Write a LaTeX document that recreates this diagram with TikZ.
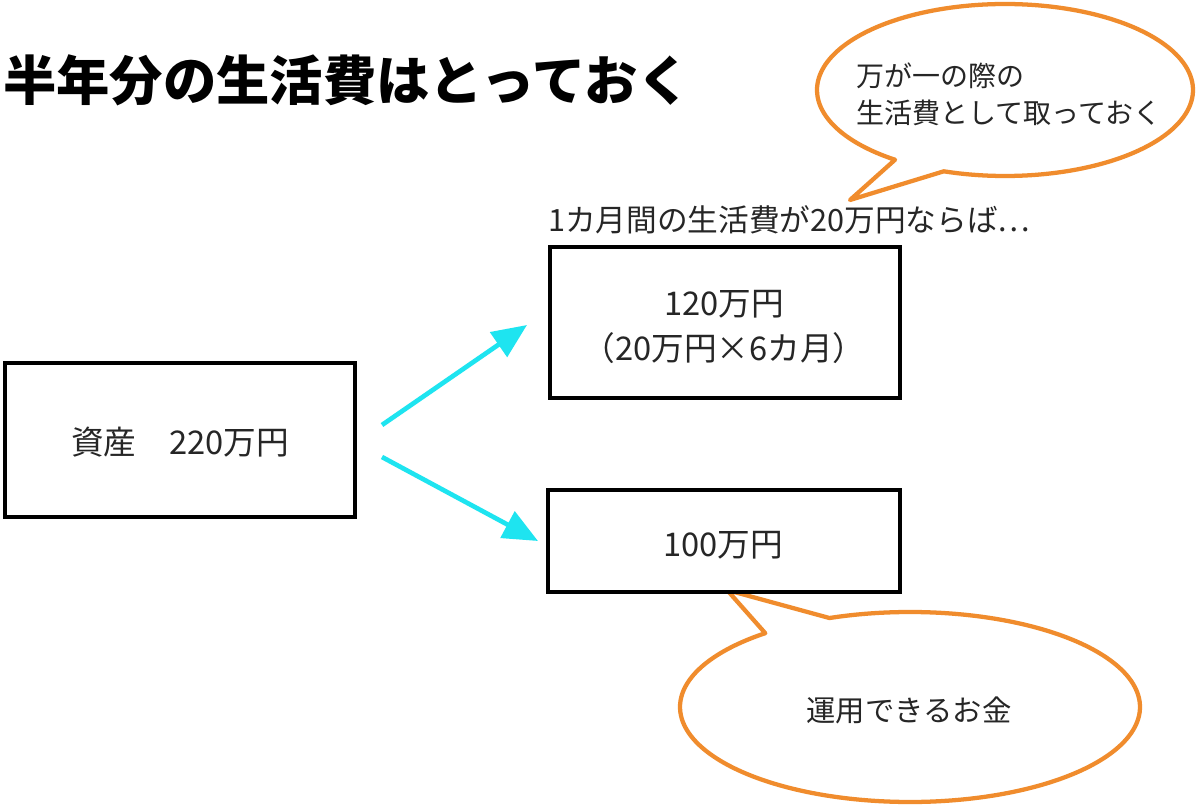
\documentclass[tikz,border=0pt]{standalone}
\usepackage{fontspec}
\newfontfamily\cjk{Noto Sans CJK JP}
\usetikzlibrary{arrows.meta}
\definecolor{callorange}{RGB}{240,140,45}
\definecolor{arrcyan}{RGB}{30,228,240}
\tikzset{
  box/.style={draw=black, line width=2.6pt, fill=white, inner sep=0pt},
  txt/.style={font=\cjk\fontsize{24.5}{34}\selectfont, text=black!85, inner sep=0pt},
  callout/.style={draw=callorange, line width=3.2pt, fill=white, line join=round},
  arr/.style={draw=arrcyan, line width=3.5pt, -{Triangle[length=26pt,width=22pt]}},
}
\begin{document}
\begin{tikzpicture}[x=0.75pt,y=-0.75pt]
\useasboundingbox (0,0) rectangle (1200,805);
\fill[white] (0,0) rectangle (1200,805);
% title
\node[anchor=west, inner sep=0pt, font=\cjk\bfseries\fontsize{40}{46}\selectfont] (title) at (3,80) {半年分の生活費はとっておく};
% top callout
\coordinate (tipA) at (850,200);
\path[callout] (tipA) -- plot[domain=125.8:469, samples=160, smooth] ({1005+188*cos(\x)},{90+86*sin(\x)}) -- cycle;
\node[txt, anchor=west, align=left, font=\cjk\fontsize{21}{28}\selectfont] (noteA) at (856,94) {万が一の際の\\生活費として取っておく};
% bottom callout
\coordinate (tipB) at (727,590);
\path[callout] (tipB) -- plot[domain=249.5:591, samples=160, smooth] ({910+230*cos(\x)},{707+95*sin(\x)}) -- cycle;
\node[txt, font=\cjk\fontsize{22}{28}\selectfont] (noteB) at (909,710) {運用できるお金};
% boxes
\node[box, minimum width={350*0.75pt}, minimum height={154*0.75pt}] (asset) at (180,440) {};
\node[txt] (assettxt) at (180,442) {資産　220万円};
\node[box, minimum width={350*0.75pt}, minimum height={151*0.75pt}] (keep) at (725,322.5) {};
\node[txt, align=center] (keeptxt) at (724,327) {120万円\\（20万円×6カ月）};
\node[box, minimum width={352*0.75pt}, minimum height={102*0.75pt}] (invest) at (724,541) {};
\node[txt] (investtxt) at (723,545) {100万円};
% label
\node[txt, anchor=west, font=\cjk\fontsize{23}{28}\selectfont] (label) at (548,220) {1カ月間の生活費が20万円ならば…};
% arrows
\coordinate (a1s) at (382,425);
\coordinate (a1e) at (527,325);
\coordinate (a2s) at (382,457);
\coordinate (a2e) at (538,541);
\draw[arr] (a1s) -- (a1e);
\draw[arr] (a2s) -- (a2e);
\end{tikzpicture}
\end{document}
